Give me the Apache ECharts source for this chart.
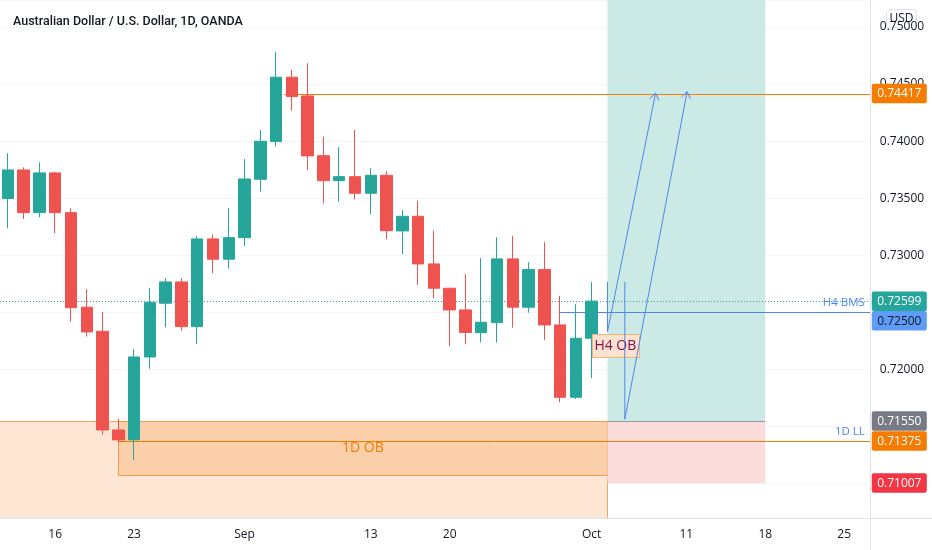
<!DOCTYPE html>
<html>
<head>
<meta charset="utf-8">
<script src="https://cdn.jsdelivr.net/npm/echarts@6/dist/echarts.min.js"></script>
<style>html,body{margin:0;padding:0;background:#fff}#c{width:932px;height:550px}</style>
</head>
<body>
<div id="c"></div>
<script>
// ---------- data ----------
const categories = [
  '2021-08-11','2021-08-12','2021-08-13','2021-08-16','2021-08-17','2021-08-18','2021-08-19','2021-08-20',
  '2021-08-23','2021-08-24','2021-08-25','2021-08-26','2021-08-27','2021-08-30','2021-08-31',
  '2021-09-01','2021-09-02','2021-09-03','2021-09-06','2021-09-07','2021-09-08','2021-09-09','2021-09-10',
  '2021-09-13','2021-09-14','2021-09-15','2021-09-16','2021-09-17','2021-09-20','2021-09-21','2021-09-22',
  '2021-09-23','2021-09-24','2021-09-27','2021-09-28','2021-09-29','2021-09-30','2021-10-01',
  '2021-10-04','2021-10-05','2021-10-06','2021-10-07','2021-10-08','2021-10-11','2021-10-12','2021-10-13',
  '2021-10-14','2021-10-15','2021-10-18','2021-10-19','2021-10-20','2021-10-21','2021-10-22','2021-10-25','2021-10-26'
];
const opens  = [0.73497,0.73748,0.73374,0.73722,0.73374,0.72546,0.72335,0.71471,0.71384,0.72110,0.72581,0.72767,0.72376,0.73144,0.72966,0.73155,0.73666,0.73996,0.74560,0.74396,0.73873,0.73654,0.73689,0.73544,0.73701,0.73214,0.73342,0.72925,0.72712,0.72522,0.72323,0.72411,0.72969,0.72546,0.72875,0.72391,0.71757,0.72274];
const closes = [0.73748,0.73374,0.73722,0.73374,0.72542,0.72329,0.71471,0.71384,0.72110,0.72586,0.72767,0.72376,0.73144,0.72966,0.73155,0.73669,0.73999,0.74560,0.74390,0.73871,0.73654,0.73689,0.73544,0.73701,0.73216,0.73342,0.72925,0.72712,0.72522,0.72325,0.72414,0.72969,0.72546,0.72875,0.72391,0.71757,0.72274,0.72599];
const lows   = [0.73237,0.73319,0.73334,0.73194,0.72419,0.72288,0.71430,0.71360,0.71208,0.72008,0.72370,0.72341,0.72224,0.72843,0.72884,0.73082,0.73558,0.73952,0.74267,0.73748,0.73456,0.73470,0.73491,0.73360,0.73141,0.73010,0.72741,0.72624,0.72207,0.72222,0.72239,0.72236,0.72367,0.72498,0.72259,0.71714,0.71743,0.71924];
const highs  = [0.73894,0.73771,0.73815,0.73730,0.73412,0.72703,0.72504,0.71570,0.72180,0.72712,0.72800,0.72800,0.73170,0.73185,0.73412,0.73844,0.74098,0.74779,0.74624,0.74682,0.74039,0.73947,0.74098,0.73763,0.73736,0.73398,0.73479,0.73216,0.72715,0.72835,0.72975,0.73159,0.73170,0.72940,0.73115,0.72645,0.72572,0.72765];

const tickDates = ['2021-08-16','2021-08-23','2021-09-01','2021-09-13','2021-09-20','2021-10-01','2021-10-11','2021-10-18','2021-10-25'];
const tickTexts = ['16','23','Sep','13','20','Oct','11','18','25'];

const yMin = 0.70700, yMax = 0.75236;

// price levels
const lastClose = 0.72599;
const resistanceLevel = 0.74417;
const bmsLevel = 0.72500;
const llLevel = 0.71375;
const entryPrice = 0.71550;
const stopPrice = 0.71007;
const obTop = 0.71550, obBottom = 0.71075;
const h4obTop = 0.72309, h4obBottom = 0.72104;

// price-scale tags (top to bottom)
const tagValues = [0.74417, 0.72599, 0.72500, 0.71550, 0.71375, 0.71007];

// drawing anchors (category dates)
const obStartDate = '2021-08-20';
const posStartDate = '2021-10-04';
const posEndDate = '2021-10-18';
const resistanceStartDate = '2021-09-06';
const bmsStartDate = '2021-09-29';
const h4obStartDate = '2021-10-01';
const h4obEndDate = '2021-10-06';

// arrow paths: [category index, price]
const arrowPath1 = [[38.0, 0.72767], [38.0, 0.72329], [41.05, 0.74420]];
const arrowPath2 = [[39.1, 0.72767], [39.1, 0.71565], [43.05, 0.74434]];

// ---------- styling ----------
const FONT = '"Open Sans", "Noto Sans", sans-serif';
const UP = '#26a69a', DOWN = '#ef5350';
const ORANGE = '#f57c00', BLUE = '#4f86ec';
const tagColors = [ORANGE, UP, '#5e9cf7', '#787b86', ORANGE, '#f23645'];
const tagTextColors = ['#ffffff', '#ffffff', '#131722', '#ffffff', '#ffffff', '#ffffff'];
const AXIS_OFFSET = 3;

const idx = d => categories.indexOf(d);
const lastEdge = categories.length - 0.5;

const candleData = opens.map((o, i) => [o, closes[i], lows[i], highs[i]]);

function band(api) { return api.size([1, 0])[0]; }
function xAt(api, v) { return api.coord([0, yMin])[0] + v * band(api); }
function yAt(api, v) { return api.coord([0, v])[1]; }

// rectangles: [x0, x1, yTop, yBottom] in category-index / price
const rects = [
  { r: [-0.5, idx(posStartDate), obTop, yMin], fill: '#fde6d4', stroke: '#f5a55d', sides: 'tr' },
  { r: [idx(obStartDate), idx(posStartDate), obTop, obBottom], fill: '#facfa9', stroke: '#f39a48', sides: 'all', text: '1D OB' },
  { r: [idx(posStartDate), idx(posEndDate), yMax, entryPrice], fill: '#cceae5', stroke: null },
  { r: [idx(posStartDate), idx(posEndDate), entryPrice, stopPrice], fill: '#fcdbdb', stroke: null }
];

// horizontal lines: [x0, x1, price]
const hlines = [
  { l: [-0.5, lastEdge, lastClose], color: UP, dash: [1, 2], width: 1 },
  { l: [idx(resistanceStartDate) - 0.5, lastEdge, resistanceLevel], color: ORANGE, width: 1 },
  { l: [idx(bmsStartDate), lastEdge, bmsLevel], color: BLUE, width: 1, text: 'H4 BMS' },
  { l: [idx(obStartDate), lastEdge, llLevel], color: ORANGE, width: 1, text: '1D LL' },
  { l: [idx(posStartDate), idx(posEndDate), entryPrice], color: '#9598a1', width: 1 }
];

const chart = echarts.init(document.getElementById('c'));

const option = {
  animation: false,
  backgroundColor: '#ffffff',
  title: {
    text: 'Australian Dollar / U.S. Dollar, 1D, OANDA',
    left: 8, top: 10,
    textStyle: { fontFamily: 'Roboto, "Open Sans", sans-serif', fontSize: 12.5, fontWeight: 500, color: '#131722' }
  },
  grid: { left: -2.3, top: 0, width: 870.1, bottom: 32, containLabel: false },
  xAxis: {
    type: 'category',
    data: categories,
    boundaryGap: true,
    axisLine: { show: false },
    axisTick: { show: false },
    splitLine: { show: false },
    axisLabel: {
      margin: 11,
      fontFamily: FONT, fontSize: 12, color: '#131722',
      interval: (i, v) => tickDates.indexOf(v) >= 0,
      formatter: v => { const k = tickDates.indexOf(v); return k >= 0 ? tickTexts[k] : ''; }
    }
  },
  yAxis: {
    type: 'value',
    position: 'right',
    offset: AXIS_OFFSET,
    min: yMin, max: yMax,
    splitNumber: 9,
    axisLine: { show: false },
    axisTick: { show: false },
    splitLine: { show: true, lineStyle: { color: '#f2f4f9', width: 1 } },
    axisLabel: {
      margin: 9, showMinLabel: false, showMaxLabel: false,
      fontFamily: FONT, fontSize: 12, color: '#131722',
      formatter: v => v.toFixed(5)
    }
  },
  series: [
    {
      type: 'custom', name: 'zones', z: 1, clip: false,
      data: rects.map((r, i) => [i, r.r[2]]),
      renderItem: (params, api) => {
        const it = rects[params.dataIndex];
        const x0 = xAt(api, it.r[0]), x1 = xAt(api, it.r[1]);
        const y0 = yAt(api, it.r[2]), y1 = yAt(api, it.r[3]);
        const children = [{ type: 'rect', shape: { x: x0, y: y0, width: x1 - x0, height: y1 - y0 }, style: { fill: it.fill } }];
        if (it.stroke) {
          if (it.sides === 'all') {
            children.push({ type: 'rect', shape: { x: Math.round(x0) + 0.5, y: Math.round(y0) + 0.5, width: Math.round(x1 - x0), height: Math.round(y1 - y0) }, style: { fill: 'none', stroke: it.stroke, lineWidth: 1 } });
          } else {
            children.push({ type: 'polyline', shape: { points: [[x0, Math.round(y0) + 0.5], [Math.round(x1) + 0.5, Math.round(y0) + 0.5], [Math.round(x1) + 0.5, y1]] }, style: { fill: 'none', stroke: it.stroke, lineWidth: 1 } });
          }
        }
        if (it.text) {
          children.push({ type: 'text', style: { text: it.text, x: (x0 + x1) / 2, y: (y0 + y1) / 2, align: 'center', verticalAlign: 'middle', fill: ORANGE, font: '14px ' + FONT } });
        }
        return { type: 'group', children };
      }
    },
    {
      type: 'custom', name: 'levels', z: 2, clip: false,
      data: hlines.map((h, i) => [i, h.l[2]]),
      renderItem: (params, api) => {
        const it = hlines[params.dataIndex];
        const cs = params.coordSys;
        const x0 = xAt(api, it.l[0]);
        const x1 = it.l[1] >= lastEdge ? cs.x + cs.width + AXIS_OFFSET : xAt(api, it.l[1]);
        const y = Math.round(yAt(api, it.l[2])) + 0.5;
        const children = [{ type: 'line', shape: { x1: x0, y1: y, x2: x1, y2: y }, style: { stroke: it.color, lineWidth: it.width, lineDash: it.dash || null } }];
        if (it.text) {
          children.push({ type: 'text', style: { text: it.text, x: x1 - 6, y: y - 4, align: 'right', verticalAlign: 'bottom', fill: BLUE, font: '11.5px ' + FONT } });
        }
        return { type: 'group', children };
      }
    },
    {
      type: 'candlestick', name: 'AUDUSD', z: 3,
      data: candleData,
      barWidth: 12,
      itemStyle: { color: UP, color0: DOWN, borderColor: UP, borderColor0: DOWN, borderWidth: 1 }
    },
    {
      type: 'custom', name: 'H4 OB', z: 4, clip: false,
      data: [[idx(h4obStartDate), h4obTop]],
      renderItem: (params, api) => {
        const x0 = xAt(api, idx(h4obStartDate)), x1 = xAt(api, idx(h4obEndDate));
        const y0 = yAt(api, h4obTop), y1 = yAt(api, h4obBottom);
        return { type: 'group', children: [
          { type: 'rect', shape: { x: Math.round(x0) + 0.5, y: Math.round(y0) + 0.5, width: Math.round(x1 - x0), height: Math.round(y1 - y0) }, style: { fill: '#fbe3cf', stroke: '#efb47c', lineWidth: 1 } },
          { type: 'text', style: { text: 'H4 OB', x: (x0 + x1) / 2, y: (y0 + y1) / 2 + 0.5, align: 'center', verticalAlign: 'middle', fill: '#880e4f', font: '14px ' + FONT } }
        ] };
      }
    },
    {
      type: 'custom', name: 'arrows', z: 5, clip: false,
      data: [[0, arrowPath1[0][1]], [1, arrowPath2[0][1]]],
      renderItem: (params, api) => {
        const path = [arrowPath1, arrowPath2][params.dataIndex];
        const pts = path.map(p => [xAt(api, p[0]), yAt(api, p[1])]);
        const n = pts.length;
        const [xa, ya] = pts[n - 2], [xb, yb] = pts[n - 1];
        const ang = Math.atan2(yb - ya, xb - xa), L = 8, a = 0.62;
        const h1 = [xb - L * Math.cos(ang - a), yb - L * Math.sin(ang - a)];
        const h2 = [xb - L * Math.cos(ang + a), yb - L * Math.sin(ang + a)];
        return { type: 'group', children: [
          { type: 'polyline', shape: { points: pts }, style: { fill: 'none', stroke: BLUE, lineWidth: 1 } },
          { type: 'polyline', shape: { points: [h1, [xb, yb], h2] }, style: { fill: 'none', stroke: BLUE, lineWidth: 1 } }
        ] };
      }
    },
    {
      type: 'custom', name: 'tags', z: 10, clip: false,
      data: tagValues.map((v, i) => [i, v]),
      renderItem: (params, api) => {
        const cs = params.coordSys;
        const x = cs.x + cs.width + AXIS_OFFSET + 1;
        const ys = []; let prev = -1e9;
        for (let k = 0; k < tagValues.length; k++) {
          let y = yAt(api, tagValues[k]);
          if (y - prev < 19.5) y = prev + 19.5;
          ys.push(y); prev = y;
        }
        const i = params.dataIndex, y = ys[i];
        return { type: 'group', children: [
          { type: 'rect', shape: { x: x, y: y - 9.75, width: 55, height: 19.5, r: 2 }, style: { fill: tagColors[i] } },
          { type: 'text', style: { text: tagValues[i].toFixed(5), x: x + 27.5, y: y + 0.5, align: 'center', verticalAlign: 'middle', fill: tagTextColors[i], font: '12px ' + FONT } }
        ] };
      }
    }
  ],
  graphic: [
    { type: 'line', z: 20, shape: { x1: 0, y1: 518.5, x2: 932, y2: 518.5 }, style: { stroke: '#e0e3eb', lineWidth: 1 } },
    { type: 'line', z: 20, shape: { x1: 870.5, y1: 0, x2: 870.5, y2: 550 }, style: { stroke: '#e0e3eb', lineWidth: 1 } },
    { type: 'group', z: 30, children: [
      { type: 'rect', shape: { x: 886.5, y: 9.5, width: 30, height: 18, r: 3 }, style: { fill: '#ffffff', stroke: '#e0e3eb', lineWidth: 1 } },
      { type: 'text', style: { text: 'USD', x: 901.5, y: 19, align: 'center', verticalAlign: 'middle', fill: '#131722', font: '12px ' + FONT } }
    ] }
  ]
};
chart.setOption(option);
</script>
</body>
</html>
